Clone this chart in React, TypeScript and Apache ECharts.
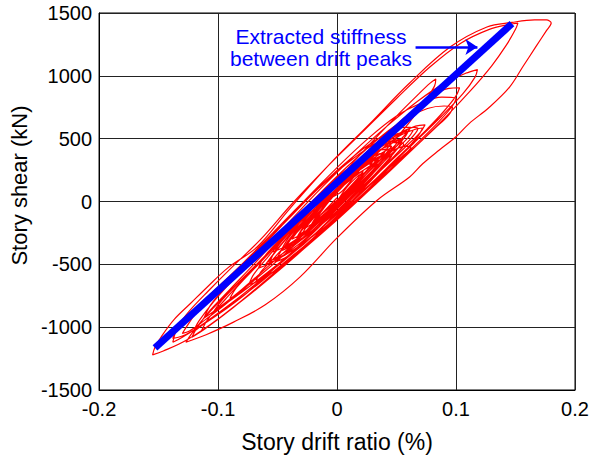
import React, { useEffect, useRef } from "react";
import * as echarts from "echarts";

// Axis ticks
const xTicks = [-0.2, -0.1, 0, 0.1, 0.2];
const yTicks = [-1500, -1000, -500, 0, 500, 1000, 1500];

// Hysteresis loops (story drift ratio %, story shear kN), in time order
const loopA = [[0, 0], [0.008, 110], [0.016, 190], [0.022, 230], [0.018, 170], [0.008, 60], [-0.004, -50], [-0.014, -130], [-0.02, -170]];
const loopB = [[-0.014, -90], [-0.004, 30], [0.008, 150], [0.02, 260], [0.03, 330], [0.036, 360], [0.032, 300], [0.02, 170], [0.006, 30], [-0.01, -110], [-0.022, -210], [-0.03, -265]];
const loopC = [[-0.024, -180], [-0.012, -50], [0.002, 90], [0.016, 230], [0.03, 340], [0.042, 410], [0.047, 430], [0.043, 360], [0.03, 220], [0.014, 60], [-0.004, -110], [-0.022, -250], [-0.036, -340], [-0.046, -390]];
const loopD = [[-0.04, -300], [-0.026, -150], [-0.01, 10], [0.008, 180], [0.024, 320], [0.038, 420], [0.05, 480], [0.055, 490], [0.05, 410], [0.036, 260], [0.018, 80], [0, -80], [-0.018, -220], [-0.034, -330], [-0.044, -380]];
const loopE = [[-0.038, -290], [-0.024, -140], [-0.006, 40], [0.014, 220], [0.034, 390], [0.052, 520], [0.066, 575], [0.072, 585], [0.068, 520], [0.054, 370], [0.036, 190], [0.016, 10], [-0.006, -170], [-0.028, -330], [-0.048, -450], [-0.06, -500]];
const loopF = [[-0.052, -400], [-0.036, -220], [-0.016, 0], [0.006, 230], [0.028, 460], [0.05, 680], [0.068, 850], [0.078, 940], [0.083, 975], [0.082, 920], [0.074, 800], [0.06, 620], [0.042, 420], [0.02, 190], [-0.004, -40], [-0.03, -280], [-0.056, -500], [-0.08, -700], [-0.1, -850], [-0.112, -930]];
const loopG = [[-0.106, -820], [-0.092, -660], [-0.072, -450], [-0.05, -230], [-0.026, 20], [0, 270], [0.026, 500], [0.05, 680], [0.07, 780], [0.088, 830], [0.1, 820], [0.097, 760], [0.086, 640], [0.068, 470], [0.046, 270], [0.02, 40], [-0.008, -200], [-0.036, -420], [-0.064, -640], [-0.09, -830], [-0.11, -960], [-0.121, -1040]];
const loopH = [[-0.116, -950], [-0.104, -800], [-0.086, -610], [-0.064, -400], [-0.04, -160], [-0.014, 100], [0.014, 360], [0.042, 600], [0.068, 800], [0.09, 940], [0.108, 1020], [0.118, 1050], [0.116, 990], [0.106, 860], [0.088, 680], [0.064, 460], [0.036, 210], [0.006, -50], [-0.026, -320], [-0.056, -560], [-0.086, -790], [-0.112, -970], [-0.13, -1080], [-0.138, -1120]];
const loopI = [[-0.134, -1000], [-0.124, -870], [-0.108, -710], [-0.088, -520], [-0.064, -300], [-0.038, -20], [-0.01, 260], [0.02, 540], [0.05, 820], [0.078, 1070], [0.104, 1260], [0.128, 1370], [0.145, 1410], [0.152, 1420], [0.15, 1370], [0.142, 1240], [0.13, 1080], [0.112, 880], [0.09, 660], [0.064, 420], [0.034, 150], [0.002, -130], [-0.032, -410], [-0.066, -680], [-0.098, -920], [-0.126, -1100], [-0.146, -1190], [-0.155, -1220]];
const loopJ = [[-0.153, -1160], [-0.148, -1080], [-0.137, -940], [-0.123, -810], [-0.109, -680], [-0.092, -530], [-0.067, -360], [-0.04, -60], [-0.006, 300], [0.028, 624], [0.061, 943], [0.095, 1229], [0.126, 1389], [0.147, 1425], [0.166, 1445], [0.176, 1445], [0.18, 1420], [0.176, 1360], [0.167, 1230], [0.156, 1070], [0.145, 910], [0.128, 750], [0.111, 620], [0.1, 515], [0.086, 410], [0.072, 300], [0.061, 195], [0.034, 12], [0, -290], [-0.031, -600], [-0.06, -820], [-0.087, -960], [-0.11, -1060], [-0.127, -1120]];
const loopK = [[-0.122, -1050], [-0.112, -930], [-0.096, -770], [-0.076, -580], [-0.052, -350], [-0.026, -90], [0.002, 180], [0.03, 440], [0.056, 660], [0.078, 830], [0.094, 900], [0.103, 905], [0.1, 840], [0.09, 720], [0.074, 560], [0.052, 360], [0.026, 120], [-0.004, -150], [-0.034, -410], [-0.064, -660], [-0.092, -880], [-0.112, -1020], [-0.122, -1080]];
const loopL = [[-0.118, -1010], [-0.108, -880], [-0.09, -700], [-0.068, -480], [-0.044, -230], [-0.018, 30], [0.01, 290], [0.036, 510], [0.058, 660], [0.076, 740], [0.09, 760], [0.097, 750], [0.094, 690], [0.082, 580], [0.064, 420], [0.042, 230], [0.016, 0], [-0.014, -260], [-0.044, -510], [-0.072, -730], [-0.098, -920], [-0.114, -1030]];
const loopM = [[-0.108, -930], [-0.094, -780], [-0.074, -570], [-0.05, -330], [-0.024, -70], [0.004, 190], [0.03, 400], [0.052, 540], [0.066, 600], [0.074, 610], [0.07, 550], [0.056, 420], [0.036, 240], [0.012, 20], [-0.014, -220], [-0.04, -430], [-0.064, -610], [-0.082, -730], [-0.09, -770]];
const loopN = [[-0.084, -680], [-0.066, -500], [-0.044, -280], [-0.02, -40], [0.004, 190], [0.026, 370], [0.044, 470], [0.055, 500], [0.05, 440], [0.036, 300], [0.016, 110], [-0.006, -100], [-0.028, -290], [-0.048, -430], [-0.058, -480]];
const loopO = [[-0.05, -380], [-0.034, -200], [-0.014, 20], [0.008, 230], [0.026, 360], [0.04, 430], [0.046, 440], [0.04, 370], [0.024, 210], [0.004, 10], [-0.018, -190], [-0.036, -320], [-0.046, -370]];
const loopP = [[-0.04, -280], [-0.024, -110], [-0.004, 100], [0.016, 280], [0.03, 360], [0.038, 380], [0.032, 310], [0.016, 160], [-0.004, -40], [-0.022, -200], [-0.034, -290]];
const loopQ = [[-0.028, -200], [-0.012, -20], [0.006, 170], [0.022, 300], [0.034, 350], [0.028, 270], [0.012, 110], [-0.008, -90], [-0.024, -220], [-0.032, -260]];
const loopR = [[-0.024, -160], [-0.008, 30], [0.01, 200], [0.024, 290], [0.03, 300], [0.024, 230], [0.008, 60], [-0.01, -110], [-0.022, -190]];
const loopS = [[-0.014, -70], [0.002, 110], [0.016, 220], [0.022, 240], [0.016, 170], [0, 10], [-0.014, -110], [-0.018, -130], [-0.006, 20], [0.004, 80]];
const loopT = [[0.02, 260], [0.038, 420], [0.054, 540], [0.064, 590], [0.068, 580], [0.062, 500], [0.048, 360], [0.03, 180], [0.01, -20], [-0.012, -230], [-0.034, -420], [-0.054, -560], [-0.068, -640], [-0.074, -660]];
const loopU = [[-0.07, -580], [-0.058, -440], [-0.042, -270], [-0.022, -60], [0, 150], [0.02, 330], [0.036, 440], [0.046, 480], [0.05, 470], [0.046, 410], [0.034, 290], [0.018, 130], [-0.002, -70], [-0.022, -260], [-0.042, -410], [-0.058, -500], [-0.066, -530]];
const loopV = [[-0.062, -450], [-0.05, -320], [-0.032, -130], [-0.012, 70], [0.008, 250], [0.026, 380], [0.04, 450], [0.05, 470], [0.056, 455], [0.052, 400], [0.042, 300], [0.026, 150], [0.006, -40], [-0.014, -220], [-0.034, -370], [-0.05, -450], [-0.056, -470]];
const loopW = [[-0.05, -360], [-0.036, -200], [-0.018, -10], [0.002, 180], [0.02, 320], [0.034, 400], [0.042, 420], [0.038, 370], [0.026, 250], [0.01, 90], [-0.01, -100], [-0.03, -270], [-0.046, -370], [-0.054, -400]];
const loopX = [[-0.048, -300], [-0.032, -130], [-0.014, 60], [0.006, 240], [0.024, 360], [0.036, 410], [0.044, 415], [0.04, 350], [0.028, 220], [0.01, 40], [-0.012, -160], [-0.032, -310], [-0.044, -370]];
const loopY = [[-0.036, -250], [-0.02, -70], [0, 140], [0.018, 290], [0.032, 370], [0.04, 390], [0.036, 330], [0.022, 190], [0.004, 10], [-0.016, -170], [-0.03, -260], [-0.038, -300]];
const loopZ = [[-0.03, -200], [-0.016, -40], [0.002, 150], [0.02, 280], [0.03, 320], [0.026, 260], [0.012, 120], [-0.006, -60], [-0.02, -170], [-0.028, -220]];
const loopAA = [[-0.012, -30], [0.008, 170], [0.028, 360], [0.046, 500], [0.058, 560], [0.064, 565], [0.06, 510], [0.046, 380], [0.026, 190], [0.002, -40], [-0.024, -280], [-0.05, -510], [-0.076, -730], [-0.1, -900], [-0.118, -1010], [-0.13, -1070], [-0.138, -1090]];
const loopAB = [[-0.136, -1040], [-0.13, -960], [-0.118, -840], [-0.1, -680], [-0.078, -480], [-0.054, -250], [-0.028, 0], [-0.002, 230], [0.022, 420], [0.042, 540], [0.056, 590], [0.062, 590], [0.058, 540], [0.046, 420], [0.028, 250], [0.006, 40], [-0.018, -190], [-0.044, -420], [-0.07, -630], [-0.094, -820], [-0.112, -950], [-0.124, -1030], [-0.13, -1050]];
const loopAC = [[-0.126, -990], [-0.118, -880], [-0.104, -740], [-0.086, -570], [-0.064, -360], [-0.04, -130], [-0.016, 100], [0.008, 300], [0.03, 450], [0.048, 530], [0.06, 560], [0.056, 500], [0.044, 380], [0.026, 200], [0.004, -20], [-0.02, -250], [-0.046, -470], [-0.07, -650], [-0.09, -790], [-0.104, -880]];
const loopAD = [[-0.098, -800], [-0.084, -660], [-0.064, -470], [-0.04, -250], [-0.016, -30], [0.008, 170], [0.03, 320], [0.048, 410], [0.058, 440], [0.062, 430], [0.056, 370], [0.042, 250], [0.022, 80], [0, -120], [-0.022, -320], [-0.044, -500], [-0.06, -600], [-0.068, -630]];
const loopAE = [[-0.064, -560], [-0.052, -440], [-0.034, -250], [-0.014, -50], [0.006, 130], [0.024, 260], [0.038, 340], [0.046, 360], [0.042, 310], [0.03, 200], [0.012, 30], [-0.008, -160], [-0.028, -340], [-0.044, -450], [-0.052, -480]];
const loopAF = [[-0.046, -380], [-0.03, -200], [-0.01, 0], [0.01, 170], [0.026, 270], [0.034, 300], [0.03, 250], [0.016, 120], [-0.004, -70], [-0.022, -240], [-0.034, -320], [-0.02, -170], [0, 30]];

// Extracted stiffness line between drift peaks
const stiffnessLine = [[-0.153, -1165], [0.147, 1415]];
// Annotation arrow (data coordinates)
const arrowStart = [0.066, 1230];
const arrowEnd = [0.118, 1230];
const annotationText = "Extracted stiffness\nbetween drift peaks";

const FONT = 'Arial, "Liberation Sans", Helvetica, sans-serif';

export default function App() {
  const ref = useRef<HTMLDivElement>(null);
  useEffect(() => {
    if (!ref.current) return;
    const chart = echarts.init(ref.current, null, { renderer: "svg" });
    const hysteresis = [
      ...loopA, ...loopB, ...loopC, ...loopD, ...loopE, ...loopF, ...loopG,
      ...loopH, ...loopI, ...loopJ, ...loopK, ...loopL, ...loopM, ...loopN,
      ...loopO, ...loopP, ...loopQ, ...loopR, ...loopS, ...loopT, ...loopU,
      ...loopV, ...loopW, ...loopX, ...loopY, ...loopZ, ...loopAA, ...loopAB,
      ...loopAC, ...loopAD, ...loopAE, ...loopAF,
    ];
    const fmtX = (v: number) => String(Math.round(v * 10) / 10);
    const fmtY = (v: number) => String(Math.round(v));
    chart.setOption({
      animation: false,
      backgroundColor: "#ffffff",
      textStyle: { fontFamily: FONT },
      grid: {
        left: 98,
        top: 13,
        width: 477,
        height: 377,
        show: true,
        borderColor: "#000",
        borderWidth: 1,
        backgroundColor: "transparent",
      },
      xAxis: {
        type: "value",
        min: xTicks[0],
        max: xTicks[xTicks.length - 1],
        interval: 0.1,
        name: "Story drift ratio (%)",
        nameLocation: "middle",
        nameGap: 40,
        nameTextStyle: { fontSize: 23, color: "#000", fontFamily: FONT },
        axisLine: { show: true, onZero: false, lineStyle: { color: "#000", width: 1 } },
        axisTick: { show: false },
        axisLabel: { fontSize: 20, color: "#000", margin: 9, fontFamily: FONT, formatter: fmtX },
        splitLine: { show: true, lineStyle: { color: "#222", width: 1 } },
      },
      yAxis: {
        type: "value",
        min: yTicks[0],
        max: yTicks[yTicks.length - 1],
        interval: 500,
        name: "Story shear (kN)",
        nameLocation: "middle",
        nameGap: 66,
        nameTextStyle: { fontSize: 22, color: "#000", fontFamily: FONT, padding: [0, 0, 0, 32] },
        axisLine: { show: true, onZero: false, lineStyle: { color: "#000", width: 1 } },
        axisTick: { show: false },
        axisLabel: { fontSize: 20, color: "#000", margin: 7, fontFamily: FONT, formatter: fmtY },
        splitLine: { show: true, lineStyle: { color: "#222", width: 1 } },
      },
      series: [
        {
          type: "line",
          name: "Hysteresis",
          data: hysteresis,
          smooth: 0.35,
          showSymbol: false,
          symbol: "none",
          lineStyle: { color: "#ff0000", width: 1.2 },
          silent: true,
          z: 2,
        },
        {
          type: "line",
          name: "Extracted stiffness",
          data: stiffnessLine,
          showSymbol: false,
          symbol: "none",
          lineStyle: { color: "#0000ff", width: 7 },
          silent: true,
          z: 3,
          markLine: {
            silent: true,
            symbol: ["none", "arrow"],
            symbolSize: 12,
            label: { show: false },
            lineStyle: { color: "#0000ff", width: 2.5, type: "solid" },
            data: [[{ coord: arrowStart }, { coord: arrowEnd }]],
          },
        },
      ],
      graphic: [
        {
          type: "text",
          x: 321,
          y: 47,
          z: 10,
          style: {
            text: annotationText,
            font: `21px ${FONT}`,
            fill: "#0000ff",
            textAlign: "center",
            textVerticalAlign: "middle",
            lineHeight: 22,
          },
        },
      ],
    });
    return () => chart.dispose();
  }, []);
  return (
    <div
      ref={ref}
      style={{ position: "fixed", left: 0, top: 0, width: 592, height: 462, background: "#fff" }}
    />
  );
}
